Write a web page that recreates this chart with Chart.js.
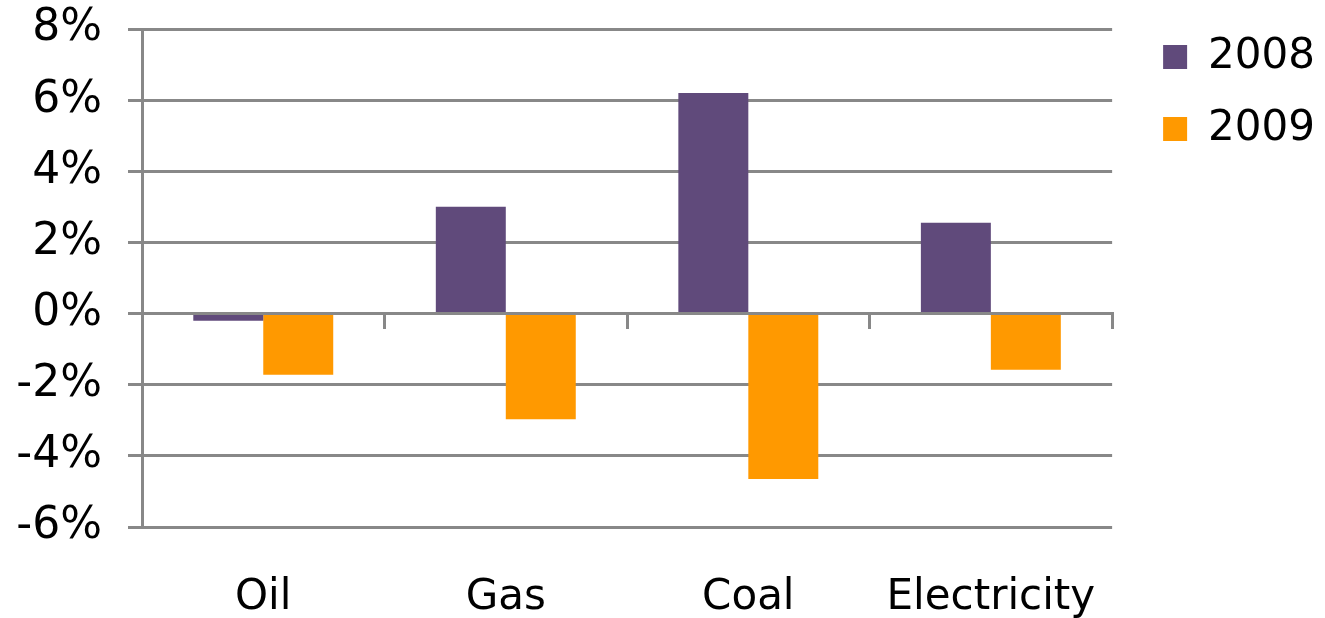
<!DOCTYPE html>
<html>
<head>
<meta charset="utf-8">
<script src="https://cdn.jsdelivr.net/npm/chart.js@4"></script>
<style>
  html, body { margin: 0; padding: 0; background: #fff; }
  canvas { display: block; }
</style>
</head>
<body>
<canvas id="chart" width="1325" height="618"></canvas>
<script>
// fuel price changes, 2008 vs 2009
const categories = ['Oil', 'Gas', 'Coal', 'Electricity'];
const values2008 = [-0.2, 3.0, 6.2, 2.55];
const values2009 = [-1.72, -2.97, -4.65, -1.58];
const yTicks = [-6, -4, -2, 0, 2, 4, 6, 8];

const gridColor = '#888888';
const font = { family: 'DejaVu Sans', size: 42 };

new Chart(document.getElementById('chart'), {
    type: 'bar',
    data: {
        labels: categories,
        datasets: [
            { label: '2008', data: values2008, backgroundColor: '#604A7B' },
            { label: '2009', data: values2009, backgroundColor: '#FF9900' }
        ]
    },
    options: {
        responsive: false,
        animation: false,
        devicePixelRatio: 1,
        layout: { padding: { top: 6, left: 0, right: 0, bottom: 0 } },
        datasets: {
            bar: { categoryPercentage: 0.577, barPercentage: 1 }
        },
        plugins: {
            tooltip: { enabled: false },
            legend: {
                position: 'right',
                align: 'start',
                labels: {
                    boxWidth: 24,
                    boxHeight: 24,
                    padding: 30,
                    color: '#000',
                    font: font
                }
            }
        },
        scales: {
            x: {
                grid: { display: false, drawTicks: false },
                border: { display: false },
                ticks: { color: '#000', font: font, padding: 46 },
                afterFit: scale => { scale.height = 91; }
            },
            x2: {
                type: 'category',
                axis: 'x',
                position: { y: 0 },
                offset: true,
                grid: {
                    offset: true,
                    drawOnChartArea: false,
                    drawTicks: true,
                    tickLength: 14,
                    color: gridColor,
                    lineWidth: 3
                },
                border: { display: true, color: gridColor, width: 3 },
                ticks: { display: false },
                afterFit: scale => { scale.height = 0; }
            },
            y: {
                min: yTicks[0],
                max: yTicks[yTicks.length - 1],
                afterBuildTicks: scale => { scale.ticks = yTicks.map(v => ({ value: v })); },
                grid: { color: gridColor, lineWidth: 3, tickLength: 14 },
                border: { display: true, color: gridColor, width: 3 },
                ticks: {
                    color: '#000',
                    font: { family: 'DejaVu Sans', size: 44 },
                    padding: 26,
                    callback: v => v + '%'
                },
                afterFit: scale => {
                    scale.width = 142;
                    scale.paddingTop = 29;
                    scale.paddingBottom = 0;
                }
            },
            spacer: {
                type: 'linear',
                axis: 'y',
                position: 'right',
                grid: { display: false },
                border: { display: false },
                ticks: { display: false },
                afterFit: scale => { scale.width = 21; }
            }
        }
    }
});
</script>
</body>
</html>
